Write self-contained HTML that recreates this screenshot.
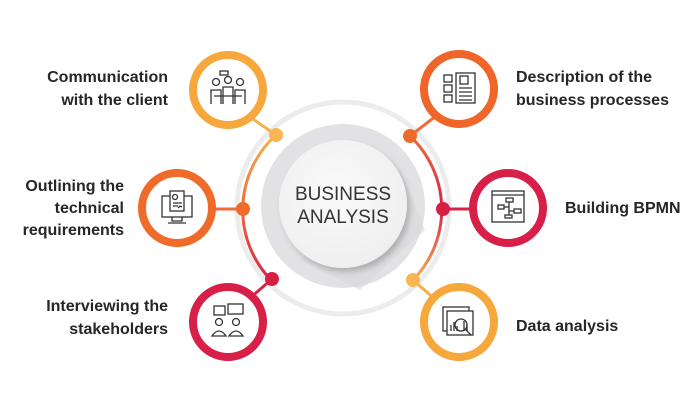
<!DOCTYPE html>
<html><head><meta charset="utf-8"><style>
body{margin:0;background:#fff;}
svg{display:block}
text{font-family:"Liberation Sans",sans-serif;font-weight:bold;fill:#262626;font-size:16px}
</style></head><body>
<svg width="700" height="420" viewBox="0 0 700 420" xmlns="http://www.w3.org/2000/svg">
<defs>
<linearGradient id="arcL" x1="0" y1="0" x2="0" y2="1"><stop offset="0" stop-color="#f6b04a"/><stop offset="0.5" stop-color="#f06a3a"/><stop offset="1" stop-color="#d8224a"/></linearGradient>
<linearGradient id="arcR" x1="0" y1="0" x2="0" y2="1"><stop offset="0" stop-color="#f06a3a"/><stop offset="0.5" stop-color="#d8224a"/><stop offset="1" stop-color="#f6b04a"/></linearGradient>
<radialGradient id="cg" cx="0.45" cy="0.4" r="0.6"><stop offset="0" stop-color="#fafafa"/><stop offset="1" stop-color="#efefef"/></radialGradient>
<filter id="sh" x="-30%" y="-30%" width="160%" height="160%"><feDropShadow dx="3" dy="4" stdDeviation="3" flood-color="#000" flood-opacity="0.2"/></filter>
</defs>
<!-- outer faint ring -->
<circle cx="343" cy="208" r="106" fill="none" stroke="#ececec" stroke-width="5"/>
<!-- colored arcs -->
<path d="M276 135 A101 101 0 0 0 272 281" fill="none" stroke="url(#arcL)" stroke-width="3"/>
<path d="M410 136 A101 101 0 0 1 413 280" fill="none" stroke="url(#arcR)" stroke-width="3"/>
<!-- center -->
<circle cx="343" cy="206" r="82" fill="#e2e2e4"/>
<path d="M300 260 L360 290 L425 230 L400 170 Z" fill="#d9d9db" opacity="0.6"/>
<circle cx="343" cy="204" r="64" fill="url(#cg)" filter="url(#sh)"/>
<text x="343" y="200" text-anchor="middle" style="font-weight:normal;font-size:19px;fill:#333">BUSINESS</text>
<text x="343" y="223" text-anchor="middle" style="font-weight:normal;font-size:19px;fill:#333">ANALYSIS</text>
<!-- connectors -->
<g stroke-width="3">
<line x1="250" y1="117" x2="276" y2="135" stroke="#f6b04a"/>
<line x1="214" y1="209" x2="243" y2="209" stroke="#f06a3a"/>
<line x1="250" y1="298" x2="272" y2="279" stroke="#d8224a"/>
<line x1="436" y1="116" x2="410" y2="136" stroke="#f06a3a"/>
<line x1="470" y1="209" x2="443" y2="209" stroke="#d8224a"/>
<line x1="436" y1="300" x2="413" y2="280" stroke="#f6b04a"/>
</g>
<circle cx="276" cy="135" r="7" fill="#f8b552"/>
<circle cx="243" cy="209" r="7" fill="#f06a2a"/>
<circle cx="272" cy="279" r="7" fill="#d61f45"/>
<circle cx="410" cy="136" r="7" fill="#f06a2a"/>
<circle cx="443" cy="209" r="7" fill="#d61f45"/>
<circle cx="413" cy="280" r="7" fill="#f8b552"/>
<!-- icon circles -->
<g>
<circle cx="228" cy="90" r="35" fill="#fff" stroke="#f6a83c" stroke-width="8"/>
<circle cx="177" cy="208" r="35" fill="#fff" stroke="#f06a2a" stroke-width="8"/>
<circle cx="228" cy="322" r="35" fill="#fff" stroke="#d81f48" stroke-width="8"/>
<circle cx="459" cy="89" r="35" fill="#fff" stroke="#f0652a" stroke-width="8"/>
<circle cx="508" cy="208" r="35" fill="#fff" stroke="#d81f48" stroke-width="8"/>
<circle cx="459" cy="322" r="35" fill="#fff" stroke="#f6a83c" stroke-width="8"/>
</g>
<g fill="none" stroke="#333" stroke-width="1.3">
<!-- comm -->
<circle cx="216" cy="82" r="3.5"/><circle cx="228" cy="80" r="3.5"/><circle cx="240" cy="82" r="3.5"/>
<path d="M211 104 V90 h10 v14 M223 104 V87 h10 v17 M235 104 V90 h10 v14 M214 96 h28"/>
<rect x="220" y="71" width="8" height="4"/>
<!-- outline -->
<rect x="162" y="196" width="30" height="21"/><path d="M172 217 v4 h10 v-4 M168 223 h18"/>
<rect x="170" y="191" width="14" height="20" fill="#fff"/><circle cx="175" cy="197" r="2.5"/><path d="M173 203 h9 M173 206 h5 M178 208 l2 -2 2 1"/>
<!-- interview -->
<rect x="214" y="306" width="11" height="9"/><rect x="228" y="304" width="15" height="10"/>
<circle cx="219" cy="322" r="3.5"/><circle cx="236" cy="322" r="3.5"/>
<path d="M212 336 q7 -10 14 0 z M229 336 q7 -10 14 0 z"/>
<!-- description -->
<rect x="444" y="75" width="8" height="7"/><rect x="444" y="85" width="8" height="7"/><rect x="444" y="95" width="8" height="7"/>
<rect x="456" y="73" width="19" height="30"/><rect x="460" y="76" width="8" height="8"/><path d="M459 88 h13 M459 92 h13 M459 96 h13 M459 100 h13"/>
<!-- bpmn -->
<rect x="492" y="191" width="32" height="31"/><path d="M492 195 h32"/>
<rect x="506" y="198" width="7" height="4"/><rect x="498" y="205" width="6" height="4"/><rect x="514" y="209" width="7" height="4"/><rect x="505" y="215" width="7" height="3"/><path d="M509 202 v13 M504 207 h5 M509 211 h5"/>
<!-- data -->
<rect x="443" y="307" width="26" height="24"/><rect x="447" y="311" width="26" height="24" fill="#fff"/>
<path d="M451 331 v-6 M454 331 v-9 M457 331 v-5 M464 331 v-10 M467 331 v-7"/>
<circle cx="461" cy="325" r="6"/><path d="M465 329 l6 6"/>
</g>
<!-- labels -->
<text x="168" y="82" text-anchor="end">Communication</text>
<text x="168" y="105" text-anchor="end">with the client</text>
<text x="124" y="191" text-anchor="end">Outlining the</text>
<text x="124" y="213" text-anchor="end">technical</text>
<text x="124" y="235" text-anchor="end">requirements</text>
<text x="168" y="311" text-anchor="end">Interviewing the</text>
<text x="168" y="334" text-anchor="end">stakeholders</text>
<text x="516" y="82">Description of the</text>
<text x="516" y="105">business processes</text>
<text x="565" y="213">Building BPMN</text>
<text x="516" y="331">Data analysis</text>
</svg>
</body></html>
